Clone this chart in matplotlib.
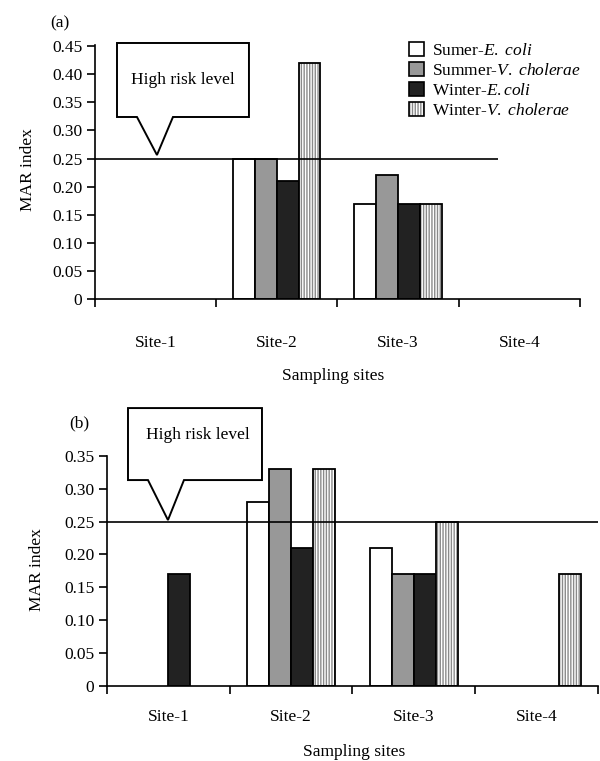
import matplotlib
matplotlib.use("Agg")
import matplotlib.pyplot as plt
import numpy as np
from matplotlib.patches import Polygon, Patch
from matplotlib.legend_handler import HandlerTuple

plt.rcParams['font.family'] = ['Liberation Serif', 'DejaVu Serif']
plt.rcParams['mathtext.fontset'] = 'custom'
plt.rcParams['mathtext.rm'] = 'Liberation Serif'
plt.rcParams['mathtext.it'] = 'Liberation Serif:italic'
plt.rcParams['font.size'] = 12.5
plt.rcParams['hatch.linewidth'] = 1.0

sites = ['Site-1', 'Site-2', 'Site-3', 'Site-4']
series_labels = [r'Sumer-$\mathit{E.\ coli}$', r'Summer-$\mathit{V.\ cholerae}$',
                 r'Winter-$\mathit{E.coli}$', r'Winter-$\mathit{V.\ cholerae}$']

# Panel (a) values: one list per series, one value per site
a_summer_ecoli = [0, 0.25, 0.17, 0]
a_summer_vchol = [0, 0.25, 0.22, 0]
a_winter_ecoli = [0, 0.21, 0.17, 0]
a_winter_vchol = [0, 0.42, 0.17, 0]

# Panel (b) values
b_summer_ecoli = [0, 0.28, 0.21, 0]
b_summer_vchol = [0, 0.33, 0.17, 0]
b_winter_ecoli = [0.17, 0.21, 0.17, 0]
b_winter_vchol = [0, 0.33, 0.25, 0.17]

risk_level = 0.25
a_yticks = [0, 0.05, 0.10, 0.15, 0.20, 0.25, 0.30, 0.35, 0.40, 0.45]
b_yticks = [0, 0.05, 0.10, 0.15, 0.20, 0.25, 0.30, 0.35]

face_colors = ['white', '#989898', '#222222', 'white']
hatch_color = '#8a8a8a'
bar_w = 0.18

fig = plt.figure(figsize=(6.0, 7.61), dpi=100)
ax_a = fig.add_axes([0.1583, 0.6067, 0.8083, 0.3343])
ax_b = fig.add_axes([0.1783, 0.0989, 0.8183, 0.3018])


def draw_panel(ax, data, yticks, ytop, line_end, label_pad):
    x = np.arange(len(sites)) + 0.5
    for i, vals in enumerate(data):
        pos = x + (i - 1.5) * bar_w
        vals = np.asarray(vals)
        m = vals > 0
        if i == 3:
            ax.bar(pos[m], vals[m], bar_w, color='white', edgecolor=hatch_color,
                   hatch='||||||', linewidth=0, zorder=2)
            ax.bar(pos[m], vals[m], bar_w, fill=False, edgecolor='black',
                   linewidth=1.3, zorder=3)
        else:
            ax.bar(pos[m], vals[m], bar_w, color=face_colors[i], edgecolor='black',
                   linewidth=1.3, zorder=2)
    ax.hlines(risk_level, 0, line_end, color='black', linewidth=1.2, zorder=4)
    ax.set_xlim(0, len(sites))
    ax.set_ylim(0, ytop)
    ax.set_xticks(x)
    ax.set_xticklabels(sites)
    ax.set_xticks(np.arange(len(sites) + 1), minor=True)
    ax.tick_params(axis='x', which='major', length=0, pad=label_pad)
    ax.tick_params(axis='x', which='minor', length=6, width=1.2, direction='out')
    ax.set_yticks(yticks)
    ax.set_yticklabels(['0' if v == 0 else f'{v:.2f}' for v in yticks])
    ax.tick_params(axis='y', length=6, width=1.2, direction='out', pad=3)
    for s in ['top', 'right']:
        ax.spines[s].set_visible(False)
    for s in ['left', 'bottom']:
        ax.spines[s].set_linewidth(1.2)


def callout(ax, box, base, tip, text_pos):
    x0, x1, y0, y1 = box
    verts = [(x0, y1), (x1, y1), (x1, y0), (base[1], y0), tip, (base[0], y0), (x0, y0)]
    poly = Polygon(verts, closed=True, facecolor='white', edgecolor='black',
                   linewidth=1.4, transform=ax.transAxes, clip_on=False, zorder=6)
    ax.add_patch(poly)
    ax.text(text_pos[0], text_pos[1], 'High risk level', transform=ax.transAxes,
            ha='center', va='center', fontsize=12.5, zorder=7)


draw_panel(ax_a, [a_summer_ecoli, a_summer_vchol, a_winter_ecoli, a_winter_vchol],
           a_yticks, 0.452, 3.32, 26)
draw_panel(ax_b, [b_summer_ecoli, b_summer_vchol, b_winter_ecoli, b_winter_vchol],
           b_yticks, 0.35, 4.0, 17)

callout(ax_a, (0.0454, 0.3175, 0.7166, 1.0075), (0.0866, 0.1608), (0.1278, 0.5672), (0.1814, 0.861))
callout(ax_b, (0.0428, 0.3157, 0.8955, 1.209), (0.0835, 0.1568), (0.1242, 0.7214), (0.1853, 1.0915))

fig.text(0.047, 0.7766, 'MAR index', rotation=90, ha='center', va='center')
fig.text(0.0617, 0.251, 'MAR index', rotation=90, ha='center', va='center')
fig.text(0.555, 1 - 376 / 761, 'Sampling sites', ha='center', va='center')
fig.text(0.59, 1 - 752 / 761, 'Sampling sites', ha='center', va='center')
fig.text(0.1, 1 - 23 / 761, '(a)', ha='center', va='center')
fig.text(0.1317, 1 - 423 / 761, '(b)', ha='center', va='center')

handles = [Patch(facecolor=face_colors[0], edgecolor='black', linewidth=1.2),
           Patch(facecolor=face_colors[1], edgecolor='black', linewidth=1.2),
           Patch(facecolor=face_colors[2], edgecolor='black', linewidth=1.2),
           (Patch(facecolor='white', edgecolor=hatch_color, hatch='||||||', linewidth=0),
            Patch(fill=False, edgecolor='black', linewidth=1.2))]
fig.legend(handles, series_labels, loc='upper left', bbox_to_anchor=(0.6817, 0.945),
           frameon=False, borderpad=0, borderaxespad=0, handlelength=0.86,
           handleheight=0.86, handletextpad=0.45, labelspacing=0.17,
           handler_map={tuple: HandlerTuple(ndivide=1, pad=0)}, fontsize=12.5)

fig.savefig('out.png', dpi=100)
